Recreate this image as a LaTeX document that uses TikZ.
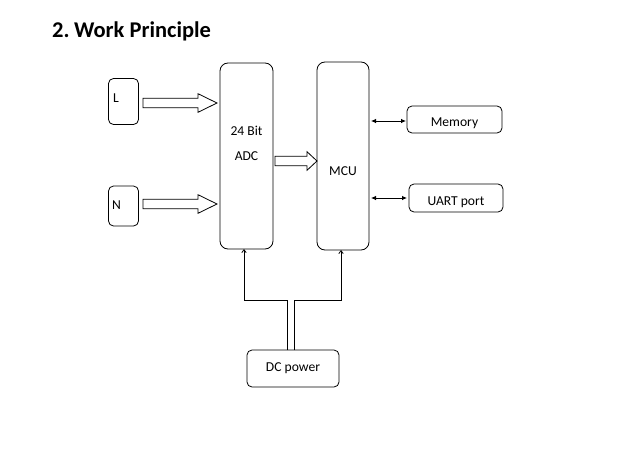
\documentclass[tikz,border=0pt]{standalone}
\usepackage{fontspec}
\setmainfont{Carlito}
\usetikzlibrary{calc,arrows.meta}
\tikzset{
  box/.style={draw=black, line width=0.8pt, rounded corners=5pt, inner sep=0pt, outer sep=0pt},
  tallbox/.style={box, rounded corners=8pt},
  txt/.style={font=\fontsize{13.6}{16}\selectfont, inner sep=0pt, anchor=base},
  hollow/.style={draw=black, line width=0.8pt, fill=white},
  bidir/.style={line width=0.8pt, {Latex[length=5pt,width=4.5pt]}-{Latex[length=5pt,width=4.5pt]}},
  pw/.style={line width=0.8pt, -{Straight Barb[length=3pt,width=4.5pt]}}
}
\newcommand\hollowarrow[3]{\draw[hollow] let \p1=(#1), \p2=(#2) in
  (\x1,\y1+4.8pt) -- (\x2-#3,\y1+4.8pt) -- (\x2-#3,\y1+9.3pt) -- (\x2,\y1) --
  (\x2-#3,\y1-9.3pt) -- (\x2-#3,\y1-4.8pt) -- (\x1,\y1-4.8pt) -- cycle;}
\begin{document}
\begin{tikzpicture}[x=1pt,y=-1pt]
\useasboundingbox[fill=white] (0,0) rectangle (630,458);
\node[anchor=base west, inner sep=0pt, font=\bfseries\fontsize{22.5}{26}\selectfont] (title) at (52,37) {2.\hspace{0.2em}Work Principle};
% boxes
\node[box, minimum width=30pt, minimum height=46pt] (L) at (123.5,101.5) {};
\node[box, minimum width=30pt, minimum height=40pt] (N) at (123.5,206) {};
\node[tallbox, minimum width=53pt, minimum height=186pt] (ADC) at (246.5,156) {};
\node[tallbox, minimum width=52pt, minimum height=188pt] (MCU) at (343,156) {};
\node[box, minimum width=95pt, minimum height=27pt] (Mem) at (454.5,119.5) {};
\node[box, minimum width=94pt, minimum height=28pt] (UART) at (456,198) {};
\node[box, minimum width=92pt, minimum height=37pt] (DC) at (293,368.5) {};
% texts
\node[txt] (Ltxt) at ($(L.north west)+(7.5,23.5)$) {L};
\node[txt] (Ntxt) at ($(N.north west)+(8,23)$) {N};
\node[txt] (adc1) at ($(ADC.north)+(0,72)$) {24 Bit};
\node[txt] (adc2) at ($(ADC.north)+(0,97.5)$) {ADC};
\node[txt] (mcut) at ($(MCU.center)+(0,19)$) {MCU};
\node[txt] at ($(Mem.center)+(0,7)$) {Memory};
\node[txt] at ($(UART.center)+(0,7.5)$) {UART port};
\node[txt] at ($(DC.center)+(0,2.5)$) {DC power};
% hollow block arrows
\coordinate (la) at ($(L.east)+(4.5,1.5)$);
\coordinate (lb) at ($(la -| ADC.west)+(-3,0)$);
\hollowarrow{la}{lb}{19pt}
\coordinate (na) at ($(N.east)+(4.5,-2)$);
\coordinate (nb) at ($(na -| ADC.west)+(-3,0)$);
\hollowarrow{na}{nb}{19pt}
\coordinate (aa) at ($(ADC.east)+(2,5)$);
\coordinate (ab) at (aa -| MCU.west);
\hollowarrow{aa}{ab}{10pt}
% bidirectional
\coordinate (m1) at ($(MCU.east |- Mem.west)+(2,1.5)$);
\draw[bidir] (m1) -- ($(m1 -| Mem.west)+(-1,0)$);
\coordinate (u1) at ($(MCU.east |- UART.west)+(2,0)$);
\draw[bidir] (u1) -- ($(u1 -| UART.west)+(-2,0)$);
% power lines
\coordinate (p1) at ($(DC.north)+(-6,0)$);
\coordinate (p2) at ($(DC.north)+(1,0)$);
\draw[pw] (p1) -- ++(0,-50) -| ($(ADC.south)+(-2.5,0)$);
\draw[pw] (p2) -- ++(0,-50) -| ($(MCU.south)+(-2,0)$);
\end{tikzpicture}
\end{document}
